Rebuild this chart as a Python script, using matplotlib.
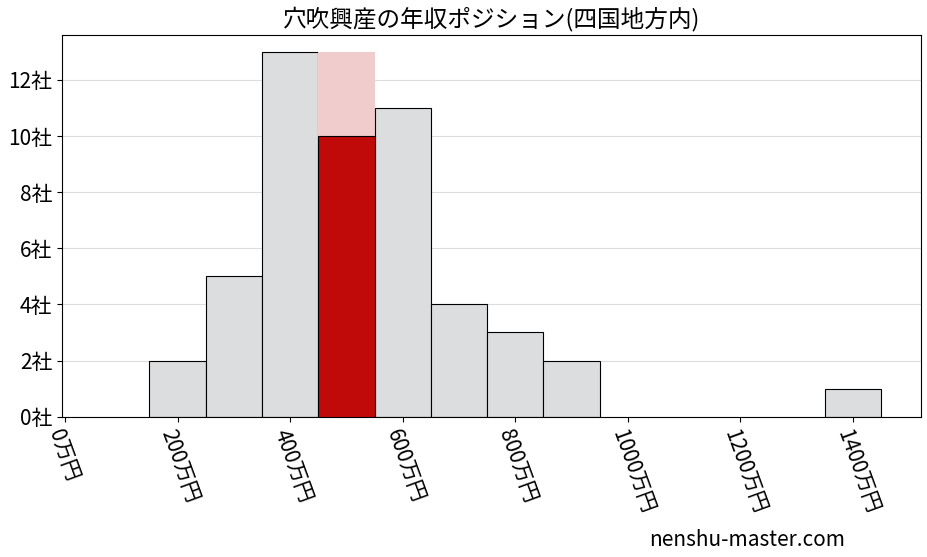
import matplotlib
matplotlib.use("Agg")
import matplotlib.pyplot as plt

plt.rcParams['font.family'] = ['Noto Sans CJK JP', 'DejaVu Sans']

centers = [200, 300, 400, 500, 600, 700, 800, 900, 1400]
counts = [2, 5, 13, 13, 11, 4, 3, 2, 1]
highlight_center = 500
highlight_value = 10
xticks = [0, 200, 400, 600, 800, 1000, 1200, 1400]
yticks = [0, 2, 4, 6, 8, 10, 12]

fig = plt.figure(figsize=(9.27, 5.57), dpi=100)
ax = fig.add_axes([0.067, 0.252, 0.926, 0.685])
for c, v in zip(centers, counts):
    if c == highlight_center:
        ax.bar(c, v, width=100, color='#f0cccc', edgecolor='none', zorder=2)
        ax.bar(c, highlight_value, width=100, color='#c00a0a', edgecolor='black', linewidth=0.8, zorder=3)
    else:
        ax.bar(c, v, width=100, color='#dcdddf', edgecolor='black', linewidth=0.8, zorder=2)
ax.set_xlim(-5, 1520)
ax.set_ylim(0, 13.6)
ax.set_xticks(xticks)
ax.set_xticklabels([f'{t}万円' for t in xticks], rotation=-70, ha='left', rotation_mode='anchor', fontsize=15)
ax.set_yticks(yticks)
ax.set_yticklabels([f'{t}社' for t in yticks], fontsize=15)
ax.grid(axis='y', color='#dddddd', linewidth=0.8, zorder=0)
ax.set_axisbelow(True)
ax.set_title('穴吹興産の年収ポジション(四国地方内)', fontsize=17)
fig.text(0.7, 0.02, 'nenshu-master.com', fontsize=15)
fig.savefig('out.png')
